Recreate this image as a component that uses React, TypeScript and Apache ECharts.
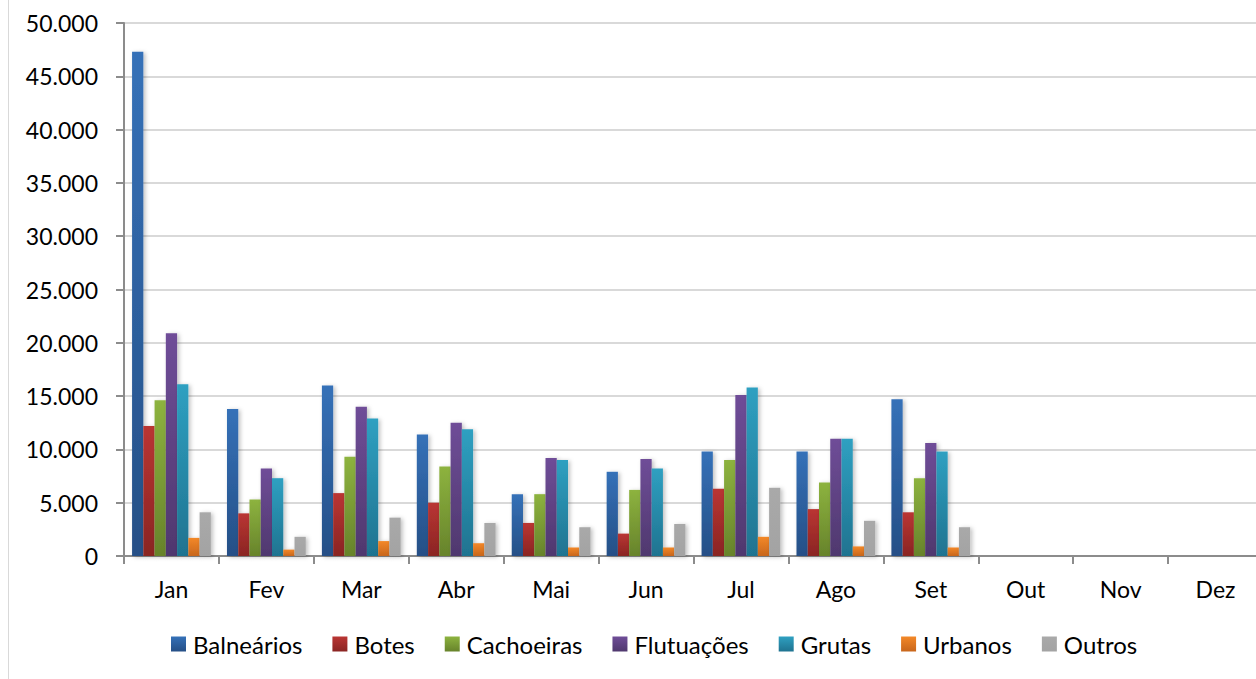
import React, { useEffect, useRef } from "react";
import * as echarts from "echarts";

const months = ["Jan", "Fev", "Mar", "Abr", "Mai", "Jun", "Jul", "Ago", "Set", "Out", "Nov", "Dez"];
const seriesNames = ["Balneários", "Botes", "Cachoeiras", "Flutuações", "Grutas", "Urbanos", "Outros"];

const balnearios = [47300, 13800, 16000, 11400, 5800, 7900, 9800, 9800, 14700, null, null, null];
const botes = [12200, 4000, 5900, 5000, 3100, 2100, 6300, 4400, 4100, null, null, null];
const cachoeiras = [14600, 5300, 9300, 8400, 5800, 6200, 9000, 6900, 7300, null, null, null];
const flutuacoes = [20900, 8200, 14000, 12500, 9200, 9100, 15100, 11000, 10600, null, null, null];
const grutas = [16100, 7300, 12900, 11900, 9000, 8200, 15800, 11000, 9800, null, null, null];
const urbanos = [1700, 600, 1400, 1200, 800, 800, 1800, 900, 800, null, null, null];
const outros = [4100, 1800, 3600, 3100, 2700, 3000, 6400, 3300, 2700, null, null, null];

const yTicks = { min: 0, max: 50000, interval: 5000 };

const allValues = [balnearios, botes, cachoeiras, flutuacoes, grutas, urbanos, outros];
const colorPairs: [string, string][] = [
  ["#3571b8", "#254f86"],
  ["#ba3533", "#8a2523"],
  ["#8db33f", "#67832b"],
  ["#6f4d98", "#4f386e"],
  ["#2fa0c1", "#1f7390"],
  ["#f38828", "#c8661c"],
  ["#a9a9a9", "#a3a3a3"],
];

const fmt = (v: number) => {
  if (v === 0) return "0";
  return v.toLocaleString("en-US").replace(/,/g, ".");
};

export default function App() {
  const ref = useRef<HTMLDivElement>(null);
  useEffect(() => {
    if (!ref.current) return;
    const chart = echarts.init(ref.current, null, { renderer: "svg" });
    const font = "Lato";
    chart.setOption({
      animation: false,
      backgroundColor: "#ffffff",
      textStyle: { fontFamily: font },
      graphic: [
        {
          type: "line",
          shape: { x1: 8.5, y1: 0, x2: 8.5, y2: 679 },
          style: { stroke: "#d9d9d9", lineWidth: 1 },
        },
      ],
      grid: { left: 124, top: 23, width: 1139, height: 533, containLabel: false },
      legend: {
        data: seriesNames,
        left: 166,
        top: 627,
        itemWidth: 15,
        itemHeight: 15,
        itemGap: 30,
        icon: "rect",
        textStyle: { fontSize: 24, color: "#000", fontFamily: font, padding: [0, 0, 0, 2] },
      },
      xAxis: {
        type: "category",
        data: months,
        axisLine: { lineStyle: { color: "#8c8c8c", width: 2 } },
        axisTick: { show: true, length: 8, lineStyle: { color: "#8c8c8c", width: 2 } },
        axisLabel: { fontSize: 23, color: "#000", margin: 21, fontFamily: font },
        splitLine: { show: false },
      },
      yAxis: {
        type: "value",
        min: yTicks.min,
        max: yTicks.max,
        interval: yTicks.interval,
        axisLine: { show: true, lineStyle: { color: "#8c8c8c", width: 2 } },
        axisTick: { show: true, length: 8, lineStyle: { color: "#8c8c8c", width: 2 } },
        axisLabel: { fontSize: 23, color: "#000", margin: 26, formatter: (v: number) => fmt(v), fontFamily: font },
        splitLine: { show: true, lineStyle: { color: "#d9d9d9", width: 2 } },
      },
      series: seriesNames.map((name, i) => ({
        name,
        type: "bar",
        data: allValues[i],
        barGap: "0%",
        barCategoryGap: "17%",
        itemStyle: {
          color: new echarts.graphic.LinearGradient(0, 0, 0, 1, [
            { offset: 0, color: colorPairs[i][0] },
            { offset: 1, color: colorPairs[i][1] },
          ]),
          shadowBlur: 4,
          shadowColor: "rgba(0,0,0,0.25)",
          shadowOffsetX: 2,
          shadowOffsetY: 1,
        },
      })),
    });
    return () => chart.dispose();
  }, []);
  return (
    <div style={{ position: "fixed", left: 0, top: 0, width: 1256, height: 679, overflow: "hidden" }}>
      <div ref={ref} style={{ position: "absolute", left: 0, top: 0, width: 1280, height: 679 }} />
    </div>
  );
}
